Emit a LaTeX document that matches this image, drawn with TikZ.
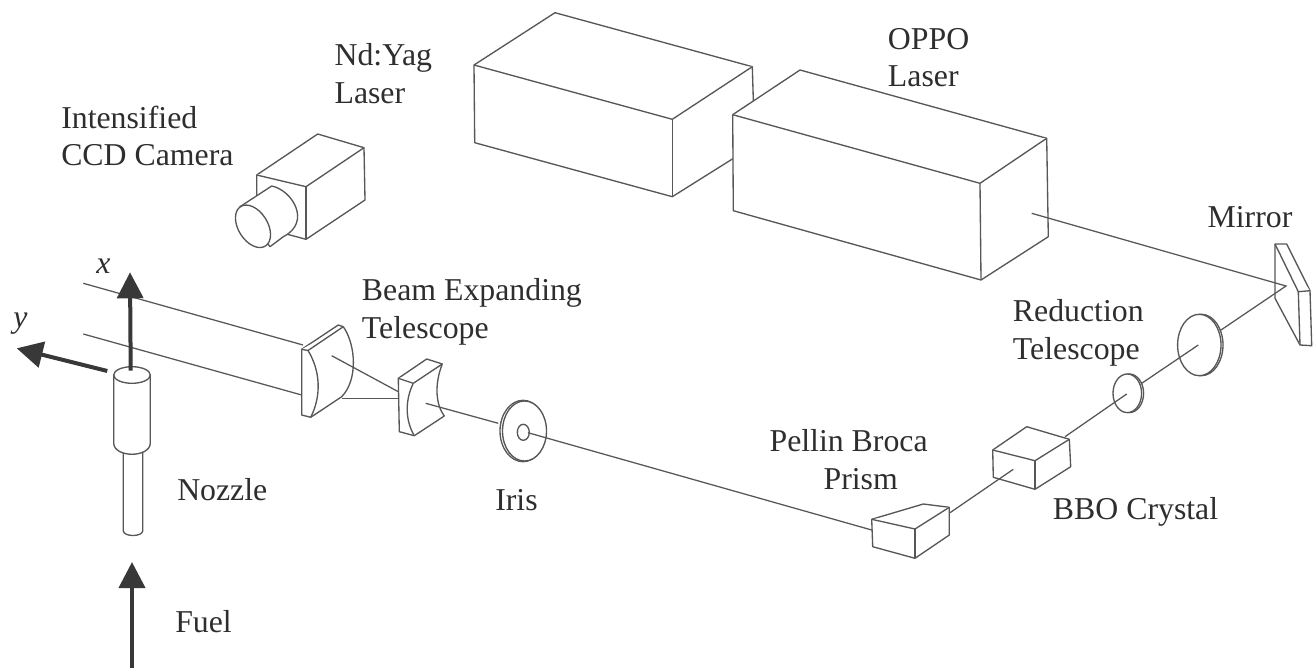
\documentclass[tikz,border=0pt]{standalone}
\usepackage{fontspec}
\setmainfont{Liberation Serif}
\usetikzlibrary{arrows.meta}
\tikzset{
  part/.style={draw=linegray,line width=1pt,line join=round,fill=white},
  ray/.style={draw=linegray,line width=0.95pt},
  axisarrow/.style={draw=darkarrow,line width=3pt,-{Triangle[length=19.5pt,width=19.5pt]}},
  lab/.style={anchor=base west,inner sep=0pt,text=inkgray,align=left,font=\fontsize{23.85}{28}\selectfont}
}
\definecolor{linegray}{gray}{0.34}
\definecolor{darkarrow}{gray}{0.22}
\definecolor{inkgray}{gray}{0.18}
\begin{document}
\begin{tikzpicture}[x=0.75pt,y=-0.75pt]
\useasboundingbox (0,0) rectangle (1314,668);
% Nd:Yag laser
\draw[part] (474,65) -- (555,12.7) -- (752.3,66.7) -- (754.7,145) -- (672.3,196.7) -- (474.7,142.7) -- cycle;
\draw[part] (474,65) -- (672.3,119.3) -- (752.3,66.7);
\draw[part] (672.3,119.3) -- (672.3,196.7);
% OPPO laser
\draw[part] (732.7,114.7) -- (800,70) -- (1046.7,138.3) -- (1048.3,236.7) -- (981,280) -- (733.3,210.7) -- cycle;
\draw[part] (732.7,114.7) -- (980,183.3) -- (1046.7,138.3);
\draw[part] (980,183.3) -- (981,280);
% camera
\draw[part] (256.7,175) -- (317.7,134) -- (364,147.7) -- (365,200) -- (306,239.3) -- (256.7,226) -- cycle;
\draw[part] (256.7,175) -- (306,186.7) -- (364,147.7);
\draw[part] (306,186.7) -- (306,239.3);
\draw[part] (240,206.7) -- (271.7,186) .. controls (292,190) and (312,222) .. (283.3,236.7) -- (270,246.7) -- cycle;
\draw[part,rotate around={-58:(253,226.3)}] (253,226.3) ellipse [x radius=23.3,y radius=14.7];
% beams
\coordinate (beamA) at (83.3,283.3);
\coordinate (beamB) at (83.3,334);
\draw[ray] (beamA) -- (303,345);
\draw[ray] (beamB) -- (301.7,395);
% nozzle
\draw[part] (123.3,448) -- (123.3,531) .. controls (124,537) and (142,537) .. (142.7,531) -- (142.7,448);
\draw[part] (113.7,375) -- (113.7,443) .. controls (114,458) and (150,458) .. (150.3,443) -- (150.3,375);
\draw[part] (132,375) ellipse [x radius=18.3,y radius=8.3];
% lens 1
\draw[part] (301.7,349.3) -- (338.3,325) -- (343.3,326.7) .. controls (356,345) and (358,380) .. (341.7,396.7) -- (310.7,417.3) -- (301.7,415) -- cycle;
\draw[part] (301.7,349.3) -- (308,350.5) -- (343.3,326.7);
\draw[part] (308,350.5) .. controls (320,370) and (322,395) .. (310.7,417.3);
% lens 2
\draw[part] (398.3,378.3) -- (426.7,359) -- (442.3,364) .. controls (434,385) and (436,405) .. (444.3,416) -- (414.3,435.7) -- (399.3,431.7) -- cycle;
\draw[part] (398.3,378.3) -- (413.3,383.3) -- (442.3,364);
\draw[part] (413.3,383.3) .. controls (405,400) and (405,420) .. (414.3,435.7);
\draw[ray] (331.7,355.7) -- (398.3,391.7);
\draw[ray] (341.7,398.3) -- (398.3,398.3);
\draw[ray] (425.7,403.3) -- (498.3,423.3);
% iris
\draw[part] (523,431) ellipse [x radius=23,y radius=30.7];
\draw[part] (524.5,431) ellipse [x radius=22,y radius=30];
\draw[part] (523.3,432.3) ellipse [x radius=6,y radius=8];
\draw[ray] (528,432.7) -- (871.7,530);
% prism
\draw[part] (871.7,519.3) -- (923.3,504) -- (949.3,507.3) -- (949.3,535) -- (915,558.3) -- (872.7,546.7) -- cycle;
\draw[part] (871.7,519.3) -- (915,529) -- (949.3,507.3);
\draw[part] (915,529) -- (915,558.3);
% BBO
\draw[part] (992.7,450) -- (1026.7,426.7) -- (1069.3,439.3) -- (1070.7,466.7) -- (1035,489.3) -- (993.3,477.3) -- cycle;
\draw[part] (992.7,450) -- (1035,460.7) -- (1069.3,439.3);
\draw[part] (1035,460.7) -- (1035,489.3);
\draw[ray] (950,512.7) -- (1013.3,469.3);
% reduction telescope
\draw[part] (1129.3,393.3) ellipse [x radius=14.3,y radius=19.3];
\draw[part] (1127.3,393.3) ellipse [x radius=14.3,y radius=19.3];
\draw[ray] (1065,436.7) -- (1126.7,394);
\draw[part] (1201.3,345) ellipse [x radius=21.7,y radius=30.7];
\draw[part] (1199.3,345) ellipse [x radius=21.7,y radius=30.7];
\draw[ray] (1141.7,383.3) -- (1198.3,345);
% mirror
\draw[part] (1275,244) -- (1286.7,244) -- (1310,290.7) -- (1311.7,345.7) -- (1300,345) -- (1275,298.3) -- cycle;
\draw[part] (1275,244) -- (1298.3,291.7) -- (1310,290.7);
\draw[part] (1298.3,291.7) -- (1300,345);
\draw[ray] (1031.7,213.3) -- (1286,286) -- (1221,330);
% axes and fuel
\coordinate (xbase) at (130.7,370.7);
\coordinate (xtip) at (130,272.3);
\coordinate (ybase) at (107.3,371);
\coordinate (ytip) at (16.7,348.3);
\coordinate (fbase) at (132,668);
\coordinate (ftip) at (132,562);
\draw[axisarrow] (xbase) -- (xtip);
\draw[axisarrow] (ybase) -- (ytip);
\draw[axisarrow] (fbase) -- (ftip);
% labels
\node[lab] (lx) at (96,273) {\textit{x}};
\node[lab] (ly) at (13,327) {\textit{y}};
\node[lab] (lcam) at (61,165.7) {Intensified\\CCD Camera};
\node[lab] (lnd) at (334.3,103.3) {Nd:Yag\\Laser};
\node[lab] (loppo) at (887.7,86.7) {OPPO\\Laser};
\node[lab] (lmir) at (1207.3,227.7) {Mirror};
\node[lab] (lbeam) at (361.7,338) {Beam Expanding\\Telescope};
\node[lab] (lred) at (1012.7,359.3) {Reduction\\Telescope};
\node[lab] (lpel) at (769.3,489.3) {Pellin Broca\\\hspace*{40.5pt}Prism};
\node[lab] (lbbo) at (1052.7,519.3) {BBO Crystal};
\node[lab] (liris) at (495,510) {Iris};
\node[lab] (lnoz) at (177,500) {Nozzle};
\node[lab] (lfuel) at (175,632.7) {Fuel};
\end{tikzpicture}
\end{document}
